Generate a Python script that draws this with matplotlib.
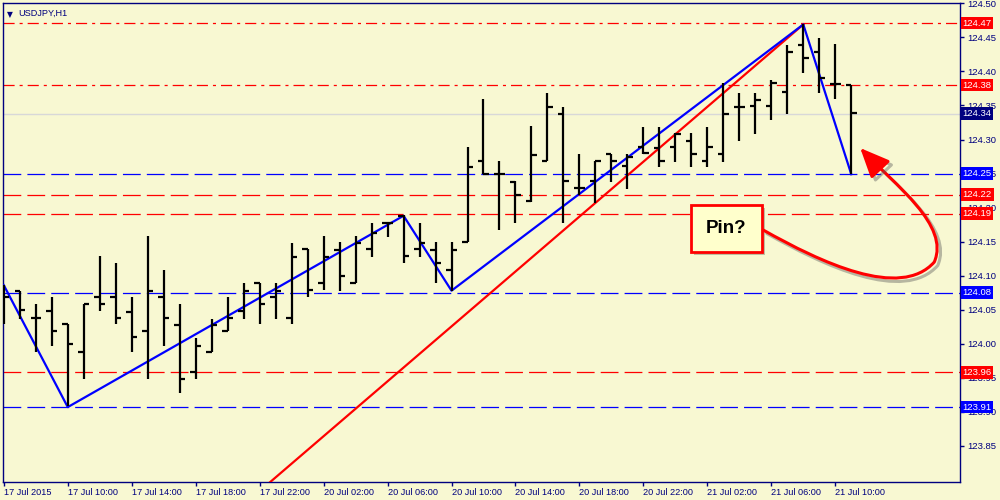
import numpy as np
import matplotlib.pyplot as plt
import matplotlib.transforms as mtransforms
import matplotlib.patheffects as pe
from matplotlib.path import Path
from matplotlib.patches import FancyArrowPatch, Rectangle

plt.rcParams['lines.scale_dashes'] = False
plt.rcParams['font.family'] = ['Liberation Sans', 'DejaVu Sans']

# USDJPY H1 bars, 17 Jul 06:00 .. 21 Jul 11:00 (bar index on x)
opens = [124.064, 124.078, 124.038, 124.048, 124.029, 123.988, 124.068, 124.068, 124.047, 124.019,
         124.068, 124.028, 123.959, 123.988, 124.019, 124.048, 124.089, 124.069, 124.038, 124.139,
         124.090, 124.138, 124.090, 124.139, 124.177, 124.188, 124.139, 124.138, 124.109, 124.149,
         124.269, 124.250, 124.238, 124.209, 124.268, 124.338, 124.229, 124.239, 124.279, 124.261,
         124.289, 124.288, 124.289, 124.298, 124.269, 124.279, 124.348, 124.349, 124.349, 124.370,
         124.439, 124.429, 124.381, 124.380]
highs = [124.086, 124.078, 124.058, 124.068, 124.029, 124.058, 124.129, 124.119, 124.068, 124.158,
         124.108, 124.058, 124.008, 124.037, 124.068, 124.089, 124.089, 124.089, 124.148, 124.139,
         124.158, 124.149, 124.158, 124.178, 124.178, 124.189, 124.178, 124.149, 124.149, 124.289,
         124.359, 124.268, 124.239, 124.320, 124.369, 124.348, 124.279, 124.268, 124.279, 124.279,
         124.319, 124.319, 124.309, 124.309, 124.319, 124.383, 124.369, 124.369, 124.388, 124.439,
         124.469, 124.449, 124.441, 124.380]
lows = [124.029, 124.037, 123.988, 123.997, 123.908, 123.948, 124.048, 124.029, 123.988, 123.948,
        123.997, 123.927, 123.948, 123.988, 124.019, 124.037, 124.029, 124.037, 124.029, 124.068,
        124.079, 124.078, 124.090, 124.128, 124.157, 124.118, 124.128, 124.089, 124.078, 124.149,
        124.249, 124.167, 124.178, 124.208, 124.268, 124.178, 124.218, 124.207, 124.238, 124.228,
        124.279, 124.259, 124.267, 124.259, 124.259, 124.267, 124.298, 124.308, 124.328, 124.337,
        124.398, 124.368, 124.359, 124.249]
closes = [124.069, 124.049, 124.038, 124.019, 123.999, 124.058, 124.059, 124.038, 124.010, 124.078,
          124.038, 123.948, 123.997, 124.028, 124.038, 124.078, 124.059, 124.078, 124.128, 124.079,
          124.128, 124.099, 124.148, 124.162, 124.177, 124.129, 124.148, 124.118, 124.138, 124.259,
          124.249, 124.250, 124.218, 124.277, 124.348, 124.239, 124.229, 124.268, 124.268, 124.275,
          124.280, 124.269, 124.308, 124.279, 124.289, 124.337, 124.348, 124.358, 124.383, 124.429,
          124.419, 124.390, 124.381, 124.339]

tick_bars = [0, 4, 8, 12, 16, 20, 24, 28, 32, 36, 40, 44, 48, 52]
tick_labels = ['17 Jul 2015', '17 Jul 10:00', '17 Jul 14:00', '17 Jul 18:00', '17 Jul 22:00',
               '20 Jul 02:00', '20 Jul 06:00', '20 Jul 10:00', '20 Jul 14:00', '20 Jul 18:00',
               '20 Jul 22:00', '21 Jul 02:00', '21 Jul 06:00', '21 Jul 10:00']

zz_bars = [0, 4, 25, 28, 50, 53]
zz_prices = [124.086, 123.907, 124.188, 124.078, 124.469, 124.249]
trend_bars = [12, 50]
trend_prices = [123.703, 124.469]

level_prices = [124.471, 124.380, 124.250, 124.219, 124.191, 124.075, 123.958, 123.907]
level_labels = ['124.47', '124.38', '124.25', '124.22', '124.19', '124.08', '123.96', '123.91']
level_colors = ['#FF0000', '#FF0000', '#0000FF', '#FF0000', '#FF0000', '#0000FF', '#FF0000', '#0000FF']
level_styles = ['dashdot', 'dashdot', 'dash', 'dash', 'dash', 'dash', 'dash', 'dash']
bid_price = 124.338
bid_label = '124.34'

bg = '#F8F8D2'
navy = '#00007F'

fig = plt.figure(figsize=(10, 5), dpi=100, facecolor=bg)
ax = fig.add_axes([0.003, 0.036, 0.957, 0.958], facecolor=bg)

x = np.arange(len(opens))
ax.set_xlim(-0.05, 59.8)
ax.set_ylim(123.797, 124.5005)

# horizontal levels
for p, c, s in zip(level_prices, level_colors, level_styles):
    dashes = (8, 3.6, 2.2, 3.6) if s == 'dashdot' else (12.8, 4.4)
    ax.axhline(p, color=c, lw=0.9, dashes=dashes, zorder=1)
ax.axhline(bid_price, color='#D8D8D8', lw=1, zorder=1)

# trend line and zigzag
ax.plot(trend_bars, trend_prices, color='#FF0000', lw=1.6, zorder=3)
ax.plot(zz_bars, zz_prices, color='#0000FF', lw=1.6, zorder=3)

# OHLC bars
ax.vlines(x, lows, highs, color='black', lw=1.6, zorder=4)
ax.hlines(opens, x - 0.33, x, color='black', lw=1.6, zorder=4)
ax.hlines(closes, x, x + 0.33, color='black', lw=1.6, zorder=4)

# axes styling
for sp in ax.spines.values():
    sp.set_color(navy)
    sp.set_linewidth(1)
ax.yaxis.tick_right()
yt = np.round(np.arange(123.85, 124.501, 0.05), 2)
ax.set_yticks(yt)
ax.set_yticklabels(['%.2f' % v for v in yt])
ax.tick_params(axis='y', colors=navy, labelcolor=navy, labelsize=6.8, length=3, width=1, pad=2)
ax.set_xticks(tick_bars)
ax.set_xticklabels(tick_labels, ha='left')
ax.tick_params(axis='x', colors=navy, labelcolor=navy, labelsize=6.6, length=3, width=1, pad=1.5)

# price labels on the right
btr = mtransforms.blended_transform_factory(ax.transAxes, ax.transData)
for p, lab, c in zip(level_prices, level_labels, level_colors):
    ax.text(1.0025, p, lab, transform=btr, color='white', fontsize=6.8, ha='left', va='center',
            bbox=dict(boxstyle='square,pad=0.2', fc=c, ec='none'), zorder=10, clip_on=False)
ax.text(1.0025, bid_price, bid_label, transform=btr, color='white', fontsize=6.8, ha='left',
        va='center', bbox=dict(boxstyle='square,pad=0.2', fc='#000080', ec='none'), zorder=10, clip_on=False)

# title
ax.text(0.004, 0.985, '\u25BC', transform=ax.transAxes, fontsize=5.5, color=navy, va='top', family='DejaVu Sans')
ax.text(0.016, 0.988, 'USDJPY,H1', transform=ax.transAxes, fontsize=6.6, color=navy, va='top')

# "Pin?" callout
shadow = mtransforms.offset_copy(ax.transData, fig=fig, x=3, y=-3, units='dots')
ax.add_patch(Rectangle((43.0, 124.135), 4.42, 0.069, transform=shadow, fc='#888870', ec='none', alpha=0.5, zorder=6))
ax.add_patch(Rectangle((43.0, 124.135), 4.42, 0.069, fc='#FFFFCC', ec='#FF0000', lw=2, zorder=7))
ax.text(45.2, 124.1695, 'Pin?', fontsize=13.5, fontweight='bold', ha='center', va='center', zorder=8)

verts = [(47.5, 124.167), (51.06, 124.120), (56.06, 124.064), (58.19, 124.120),
         (59.19, 124.174), (55.75, 124.233), (53.56, 124.2875)]
codes = [Path.MOVETO] + [Path.CURVE4] * 6
arrow = FancyArrowPatch(path=Path(verts, codes), arrowstyle='-|>,head_length=0.5,head_width=0.22',
                        mutation_scale=36, color='#FF0000', lw=2.2, zorder=8,
                        path_effects=[pe.SimpleLineShadow(offset=(2.5, -2.5), shadow_color='#555555', alpha=0.4),
                                      pe.Normal()])
ax.add_patch(arrow)

plt.savefig('out.png', dpi=100, facecolor=bg)
